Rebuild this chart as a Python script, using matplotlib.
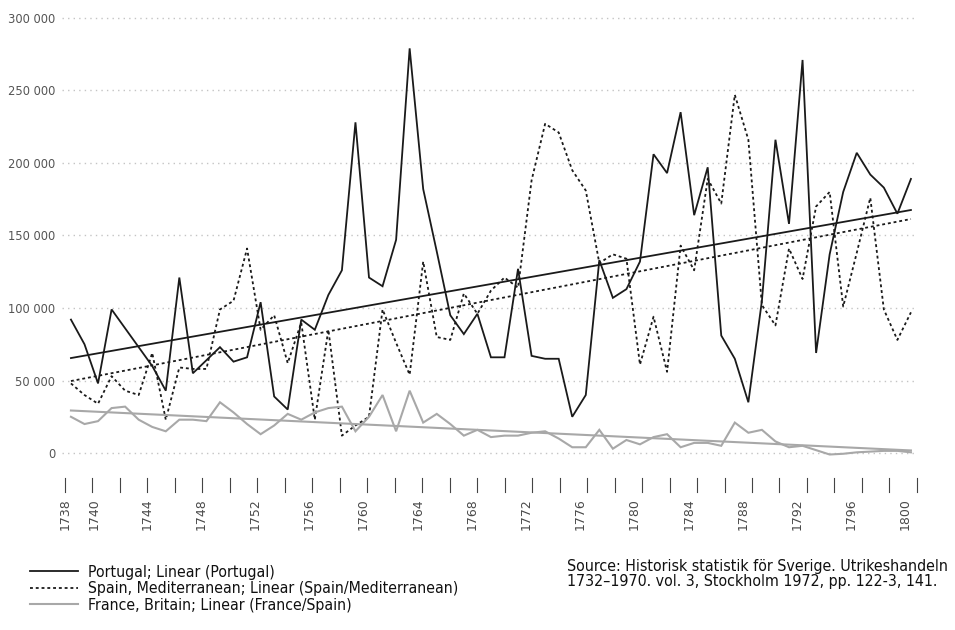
import numpy as np
import matplotlib
matplotlib.use("Agg")
import matplotlib.pyplot as plt
from matplotlib.lines import Line2D
from matplotlib.font_manager import FontProperties
import matplotlib.transforms as mtransforms

years = list(range(1738, 1801))

portugal = [92, 75, 48, 99, 86, 73, 60, 43, 121, 55, 64, 73, 63, 66, 104, 39, 30, 92, 85, 109,
            126, 228, 121, 115, 147, 279, 182, 139, 95, 82, 96, 66, 66, 127, 67, 65, 65, 25, 40, 133,
            107, 113, 132, 206, 193, 235, 164, 197, 81, 65, 35, 105, 216, 158, 271, 69, 137, 180, 207, 192,
            183, 165, 189]
spain = [48, 40, 34, 53, 43, 40, 69, 23, 59, 58, 58, 99, 105, 141, 85, 95, 62, 90, 23, 85,
         12, 19, 25, 99, 76, 54, 132, 80, 78, 110, 96, 112, 121, 114, 188, 227, 221, 195, 181, 131,
         137, 134, 61, 94, 56, 143, 126, 189, 172, 247, 216, 102, 88, 141, 120, 170, 180, 101, 138, 176,
         99, 78, 97]
france = [25, 20, 22, 31, 32, 23, 18, 15, 23, 23, 22, 35, 28, 20, 13, 19, 27, 23, 28, 31,
          32, 15, 25, 40, 15, 43, 21, 27, 20, 12, 16, 11, 12, 12, 14, 15, 10, 4, 4, 16,
          3, 9, 6, 11, 13, 4, 7, 7, 5, 21, 14, 16, 8, 4, 5, 2, -1, -0.5, 0.5, 1,
          1.5, 1.5, 0.5]

ytick_vals = [0, 50000, 100000, 150000, 200000, 250000, 300000]
ytick_labels = ["0", "50 000", "100 000", "150 000", "200 000", "250 000", "300 000"]
xlabel_years = [1738, 1740, 1744, 1748, 1752, 1756, 1760, 1764, 1768, 1772, 1776, 1780,
                1784, 1788, 1792, 1796, 1800]

legend_labels = ["Portugal; Linear (Portugal)",
                 "Spain, Mediterranean; Linear (Spain/Mediterranean)",
                 "France, Britain; Linear (France/Spain)"]
source_text = ("Source: Historisk statistik för Sverige. Utrikeshandeln\n"
               "1732\u20131970. vol. 3, Stockholm 1972, pp. 122-3, 141.")

plt.rcParams['font.family'] = ['DejaVu Sans']

W, H = 955, 630
fig = plt.figure(figsize=(W / 100, H / 100), dpi=100)
ax_l, ax_r, ax_t, ax_b = 62, 915, 15, 457.4
ax = fig.add_axes([ax_l / W, 1 - ax_b / H, (ax_r - ax_l) / W, (ax_b - ax_t) / H])

x = np.array(years, dtype=float)
series = [np.array(portugal) * 1000.0, np.array(spain) * 1000.0, np.array(france) * 1000.0]
styles = [dict(color='#1a1a1a', lw=1.3, ls='-'),
          dict(color='#1a1a1a', lw=1.3, ls=(0, (1.6, 1.6))),
          dict(color='#a8a8a8', lw=1.5, ls='-')]

for y, st in zip(series, styles):
    ax.plot(x, y, solid_joinstyle='miter', **st)
    coef = np.polyfit(x, y, 1)
    ax.plot(x, np.polyval(coef, x), **st)

ax.set_xlim(1737.34, 1800.3)
ax.set_ylim(-3000, 302000)
for s in ax.spines.values():
    s.set_visible(False)
ax.set_yticks(ytick_vals)
ax.set_yticklabels(ytick_labels, fontsize=8.3, color='#555555')
ax.tick_params(axis='y', length=0, pad=5)
ax.set_xticks([])
ax.grid(axis='y', color='#c4c4c4', ls=(0, (1, 3)), lw=1)
ax.set_axisbelow(True)

# tick marks below the plot area
trans = mtransforms.blended_transform_factory(ax.transData, fig.transFigure)
tick_pos = np.linspace(1737.56, 1800.44, 32)
for tp in tick_pos:
    ax.plot([tp, tp], [1 - 478 / H, 1 - 492 / H], color='#444444', lw=0.8,
            transform=trans, clip_on=False)
for yr in xlabel_years:
    pos = yr - 0.4 if yr > 1740 else yr - (0.45 if yr == 1738 else 0.3)
    ax.text(pos, 1 - 498 / H, str(yr), transform=trans, rotation=90, ha='center', va='top',
            fontsize=9, color='#4a4a4a')

cond_leg = FontProperties(family='DejaVu Sans', stretch='condensed', size=11.3)
cond_src = FontProperties(family='DejaVu Sans', stretch='condensed', size=11.4)

# legend drawn row by row
row_y = [571, 587.5, 604]
for yy, st, lab in zip(row_y, styles, legend_labels):
    fig.add_artist(Line2D([30 / W, 78 / W], [1 - yy / H, 1 - yy / H],
                          transform=fig.transFigure, **st))
    fig.text(88 / W, 1 - yy / H, lab, ha='left', va='center_baseline',
             fontproperties=cond_leg, color='#111111')

fig.text(567 / W, 1 - 559 / H, source_text, ha='left', va='top',
         fontproperties=cond_src, color='#111111', linespacing=1.02)

fig.savefig('out.png', dpi=100)
